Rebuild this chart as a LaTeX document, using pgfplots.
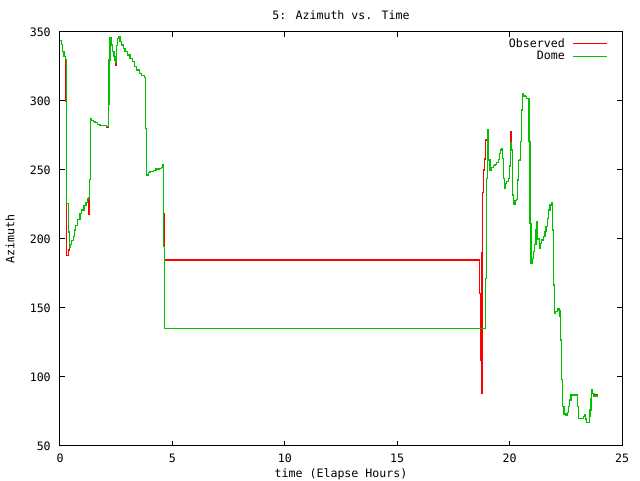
\documentclass[border=0pt]{standalone}
\usepackage{pgfplots}
\pgfplotsset{compat=1.18}
\usepackage{fontspec}
\setmainfont{DejaVu Sans Mono}
\definecolor{gpred}{RGB}{255,0,0}
\definecolor{gpgreen}{RGB}{0,192,0}
\newcommand{\gpfont}{\fontsize{8.7}{10}\selectfont}
\begin{document}
\begin{tikzpicture}
\begin{axis}[
  scale only axis, width=421.5pt, height=310.5pt,
  xmin=0, xmax=25, ymin=50, ymax=350,
  xtick={0,5,...,25}, ytick={50,100,...,350},
  /pgf/number format/assume math mode=true,
  tick label style={font=\gpfont},
  xticklabel style={anchor=center, yshift=-9pt},
  yticklabel style={anchor=east, inner sep=0pt, xshift=-6.75pt},
  major tick length=4pt,
  axis line style={line width=0.75pt},
  every tick/.style={black, line width=0.75pt},
  title={5: Azimuth vs. Time},
  title style={font=\gpfont, at={(axis description cs:0.5,1.022)}, anchor=center},
  xlabel={time (Elapse Hours)},
  xlabel style={font=\gpfont, at={(axis description cs:0.5,-0.0676)}, anchor=center},
  ylabel={Azimuth},
  ylabel style={font=\gpfont, at={(axis description cs:-0.089,0.5)}, anchor=center},
  legend style={draw=none, fill=none, font=\gpfont, at={(axis description cs:1,1)}, anchor=north east, xshift=-8pt, yshift=-0.5pt, row sep=-2.6pt, column sep=4pt},
  legend plot pos=right,
  legend cell align=right,
  legend image code/.code={\draw[#1, line width=0.75pt] plot coordinates {(0pt,0pt) (25pt,0pt)};},
]
\coordinate (ll) at (rel axis cs:0,0);
\coordinate (ur) at (rel axis cs:1,1);
\addplot[const plot, gpred, line width=0.85pt] coordinates {
(0.00,344) (0.06,341) (0.12,336) (0.18,332) (0.23,330) (0.25,300) (0.27,258) (0.30,188) (0.36,192) (0.41,194)
(0.47,196) (0.52,199) (0.59,202) (0.64,206.5) (0.70,210) (0.79,214) (0.89,218.6) (0.96,221) (1.07,224) (1.16,226.6) (1.23,229) (1.26,218)
(1.31,243) (1.35,287.5) (1.38,286) (1.48,285) (1.56,284.3) (1.66,283) (1.78,282) (2.07,281) (2.15,297.6) (2.18,329.7) (2.22,345.9)
(2.27,340.6) (2.33,336) (2.40,332) (2.45,329.7) (2.48,326) (2.52,340) (2.57,345.4) (2.59,346.6) (2.67,343) (2.74,340.6) (2.82,338.2)
(2.89,335.7) (2.99,333.3) (3.11,331) (3.22,328.5) (3.31,324.9) (3.41,322.5) (3.53,320) (3.63,318.4) (3.75,316.9) (3.81,280.2)
(3.86,246.4) (3.93,248) (4.00,248.8) (4.15,249.5) (4.27,250.7) (4.42,251.2) (4.52,251.7) (4.57,253.6) (4.62,218.6) (4.66,184.8)
(18.65,160.7) (18.70,112.3) (18.74,88) (18.77,190) (18.80,234) (18.84,250) (18.88,258) (18.92,271.7) (19.07,257.2)
(19.13,250) (19.20,252) (19.28,253) (19.35,254) (19.42,255.3) (19.50,257.7) (19.54,262.1) (19.60,264.5) (19.66,265.7) (19.69,258.5)
(19.72,244) (19.77,236.7) (19.81,240.4) (19.87,241.5) (19.94,244) (19.99,252.9) (20.03,269.3) (20.06,277.8) (20.09,264.5) (20.12,231.9)
(20.17,225.4) (20.24,227.8) (20.31,228.8) (20.34,242.8) (20.39,256.7) (20.46,257.7) (20.49,270.5) (20.52,293.5) (20.57,305.6)
(20.61,303.6) (20.69,303) (20.76,302) (20.86,270.5) (20.91,211.4) (20.95,182.4) (21.00,186) (21.06,190.8) (21.12,196) (21.17,206.5)
(21.20,212.5) (21.25,200) (21.32,193.3) (21.35,196.9) (21.43,199.3) (21.50,201.7) (21.57,205.3) (21.62,208.9) (21.68,215) (21.72,221)
(21.80,224.6) (21.87,226.3) (21.92,206.5) (21.95,166.7) (21.99,146.2) (22.05,147.5) (22.12,149.8) (22.20,148) (22.24,143.7) (22.27,126.8)
(22.32,98) (22.36,78.5) (22.42,73.2) (22.51,72.5) (22.57,74) (22.61,78.5) (22.66,83.3) (22.73,87) (22.98,87) (23.01,78.5) (23.06,70)
(23.21,70) (23.28,71.5) (23.32,72.5) (23.38,69.5) (23.43,66.9) (23.50,66.9) (23.55,71.2) (23.58,76.1) (23.62,84.6) (23.65,91.1)
(23.70,88.2) (23.75,87) (23.92,87)
};
\addlegendentry{Observed}
\addplot[const plot, gpgreen, line width=0.9pt] coordinates {
(0.00,344) (0.06,341) (0.12,336) (0.18,332) (0.23,330) (0.28,226) (0.37,205) (0.41,194)
(0.47,196) (0.52,199) (0.59,202) (0.64,206.5) (0.70,210) (0.79,214) (0.89,218.6) (0.96,221) (1.07,224) (1.16,226.6) (1.23,229) (1.26,230)
(1.31,243) (1.35,287.5) (1.38,286) (1.48,285) (1.56,284.3) (1.66,283) (1.78,282) (2.07,281.5) (2.15,297.6) (2.18,329.7) (2.22,345.9)
(2.27,340.6) (2.33,336) (2.40,332) (2.45,329.7) (2.48,328) (2.52,340) (2.57,345.4) (2.59,346.6) (2.67,343) (2.74,340.6) (2.82,338.2)
(2.89,335.7) (2.99,333.3) (3.11,331) (3.22,328.5) (3.31,324.9) (3.41,322.5) (3.53,320) (3.63,318.4) (3.75,316.9) (3.81,280.2)
(3.86,246.4) (3.93,248) (4.00,248.8) (4.15,249.5) (4.27,250.7) (4.42,251.2) (4.52,251.7) (4.57,253.6) (4.60,194.4) (4.66,135.3)
(18.94,171.5) (18.98,244) (19.02,279.5) (19.07,257.2)
(19.13,250) (19.20,252) (19.28,253) (19.35,254) (19.42,255.3) (19.50,257.7) (19.54,262.1) (19.60,264.5) (19.66,265.7) (19.69,258.5)
(19.72,244) (19.77,236.7) (19.81,240.4) (19.87,241.5) (19.94,244) (19.99,252.9) (20.03,269.3) (20.06,270) (20.09,264.5) (20.12,231.9)
(20.17,225.4) (20.24,227.8) (20.31,228.8) (20.34,242.8) (20.39,256.7) (20.46,257.7) (20.49,270.5) (20.52,293.5) (20.57,305.6)
(20.61,303.6) (20.69,303) (20.76,302) (20.86,270.5) (20.91,211.4) (20.95,182.4) (21.00,186) (21.06,190.8) (21.12,196) (21.17,206.5)
(21.20,212.5) (21.25,200) (21.32,193.3) (21.35,196.9) (21.43,199.3) (21.50,201.7) (21.57,205.3) (21.62,208.9) (21.68,215) (21.72,221)
(21.80,224.6) (21.87,226.3) (21.92,206.5) (21.95,166.7) (21.99,146.2) (22.05,147.5) (22.12,149.8) (22.20,148) (22.24,143.7) (22.27,126.8)
(22.32,98) (22.36,78.5) (22.42,73.2) (22.51,72.5) (22.57,74) (22.61,78.5) (22.66,83.3) (22.73,87) (22.98,87) (23.01,78.5) (23.06,70)
(23.21,70) (23.28,71.5) (23.32,72.5) (23.38,69.5) (23.43,66.9) (23.50,66.9) (23.55,71.2) (23.58,76.1) (23.62,84.6) (23.65,91.1)
(23.70,88.2) (23.75,86.2) (23.92,86.2)
};
\addlegendentry{Dome}
\end{axis}
\pgfresetboundingbox
\path[use as bounding box] ([xshift=-45pt,yshift=-25.5pt]ll) rectangle ([xshift=13.5pt,yshift=24pt]ur);
\end{tikzpicture}
\end{document}
